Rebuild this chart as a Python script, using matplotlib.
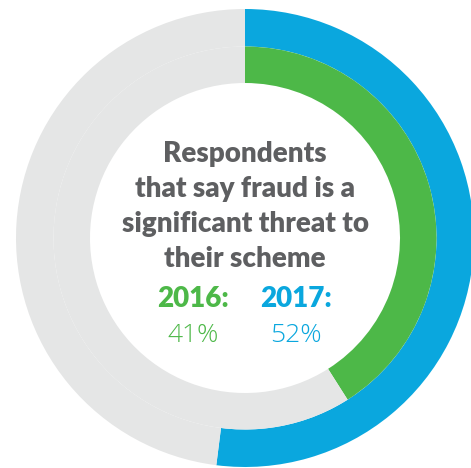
import matplotlib
matplotlib.use("Agg")
import matplotlib.pyplot as plt

years = ["2016", "2017"]
values = [41, 52]
ring_colors = ["#4db848", "#0aa7de"]
rest_color = "#e5e6e6"
title_lines = ["Respondents", "that say fraud is a", "significant threat to", "their scheme"]
text_grey = "#5e5f61"

fig = plt.figure(figsize=(4.71, 4.68), dpi=100)
ax = fig.add_axes([0, 0, 1, 1])

R_out, R_mid, R_in = 229, 191.5, 155
# outer ring: 2017
ax.pie([values[1], 100 - values[1]], radius=R_out, colors=[ring_colors[1], rest_color],
       startangle=90, counterclock=False, wedgeprops=dict(width=R_out - R_mid, linewidth=0))
# inner ring: 2016
ax.pie([values[0], 100 - values[0]], radius=R_mid, colors=[ring_colors[0], rest_color],
       startangle=90, counterclock=False, wedgeprops=dict(width=R_mid - R_in, linewidth=0))
ax.set_xlim(-245, 226)
ax.set_ylim(-230, 238)
ax.set_aspect("equal")
ax.axis("off")

fam = ["Lato", "DejaVu Sans"]
ys = [84, 49, 14, -21]
for line, y in zip(title_lines, ys):
    ax.text(0, y, line, ha="center", va="center", fontsize=20, fontweight="heavy",
            color=text_grey, family=fam)

xs = [-52, 51]
for yr, v, c, x in zip(years, values, ring_colors, xs):
    ax.text(x, -61, yr + ":", ha="center", va="center", fontsize=20, fontweight="heavy",
            color=c, family=fam)
    ax.text(x, -97, f"{v}%", ha="center", va="center", fontsize=19, fontweight="light",
            color=c, family=["Open Sans", "DejaVu Sans"])

fig.savefig("out.png", dpi=100)
